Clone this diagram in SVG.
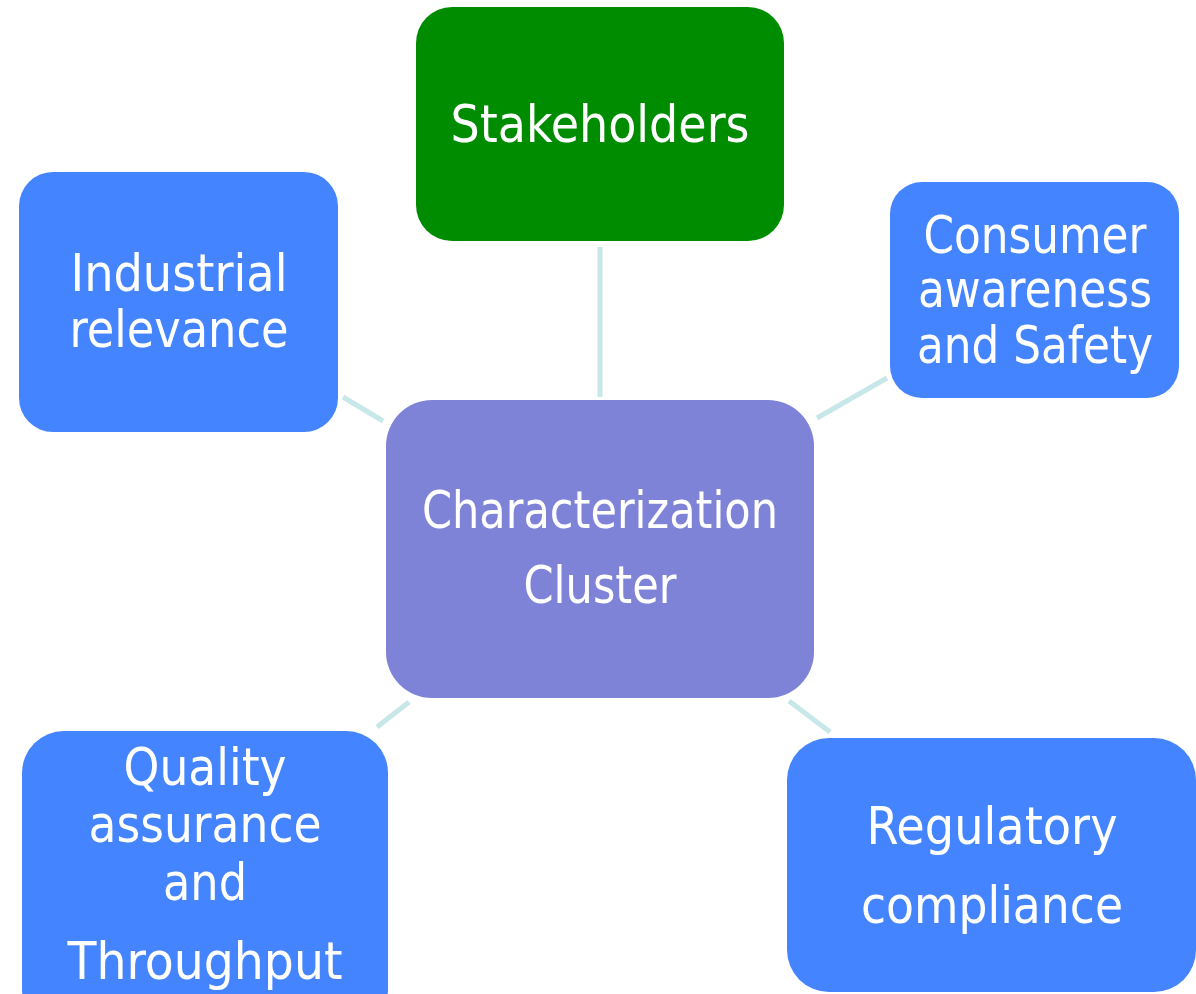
<svg xmlns="http://www.w3.org/2000/svg" width="1196" height="994" viewBox="0 0 1196 994">
<style>
.lbl{font-family:"DejaVu Sans Condensed","DejaVu Sans",Tahoma,Verdana,sans-serif;font-stretch:condensed;font-size:51px;fill:#ffffff;text-anchor:middle}
.blue{fill:#4584FF}
.conn{stroke:#C8E7E8;stroke-width:5;fill:none}
</style>
<rect width="1196" height="994" fill="#ffffff"/>
<g id="connectors">
<line class="conn" x1="600" y1="247" x2="600" y2="397"/>
<line class="conn" x1="343" y1="397" x2="383" y2="421"/>
<line class="conn" x1="887" y1="378" x2="817" y2="418"/>
<line class="conn" x1="409" y1="702" x2="377" y2="727"/>
<line class="conn" x1="789" y1="701" x2="830" y2="732"/>
</g>
<g id="stakeholders">
<rect x="416" y="7" width="368" height="234" rx="36" fill="#008C00"/>
<text class="lbl" x="600" y="142" textLength="299" lengthAdjust="spacingAndGlyphs">Stakeholders</text>
</g>
<g id="industrial">
<rect class="blue" x="19" y="172" width="319" height="260" rx="34"/>
<text class="lbl" x="179" y="291" textLength="217" lengthAdjust="spacingAndGlyphs">Industrial</text>
<text class="lbl" x="179" y="347" textLength="219" lengthAdjust="spacingAndGlyphs">relevance</text>
</g>
<g id="consumer">
<rect class="blue" x="890" y="182" width="289" height="216" rx="32"/>
<text class="lbl" x="1035" y="253" textLength="223" lengthAdjust="spacingAndGlyphs">Consumer</text>
<text class="lbl" x="1035" y="307" textLength="234" lengthAdjust="spacingAndGlyphs">awareness</text>
<text class="lbl" x="1035" y="363" textLength="236" lengthAdjust="spacingAndGlyphs">and Safety</text>
</g>
<g id="center">
<rect x="386" y="400" width="428" height="298" rx="46" fill="#7F83D8"/>
<text class="lbl" x="600" y="528" textLength="356" lengthAdjust="spacingAndGlyphs">Characterization</text>
<text class="lbl" x="600" y="603" textLength="153" lengthAdjust="spacingAndGlyphs">Cluster</text>
</g>
<g id="quality">
<rect class="blue" x="22" y="731" width="366" height="300" rx="42"/>
<text class="lbl" x="205" y="785" textLength="163" lengthAdjust="spacingAndGlyphs">Quality</text>
<text class="lbl" x="205" y="842" textLength="233" lengthAdjust="spacingAndGlyphs">assurance</text>
<text class="lbl" x="205" y="900" textLength="84" lengthAdjust="spacingAndGlyphs">and</text>
<text class="lbl" x="205" y="979" textLength="275" lengthAdjust="spacingAndGlyphs">Throughput</text>
</g>
<g id="regulatory">
<rect class="blue" x="787" y="738" width="409" height="254" rx="42"/>
<text class="lbl" x="992" y="844" textLength="251" lengthAdjust="spacingAndGlyphs">Regulatory</text>
<text class="lbl" x="992" y="923" textLength="262" lengthAdjust="spacingAndGlyphs">compliance</text>
</g>
</svg>
